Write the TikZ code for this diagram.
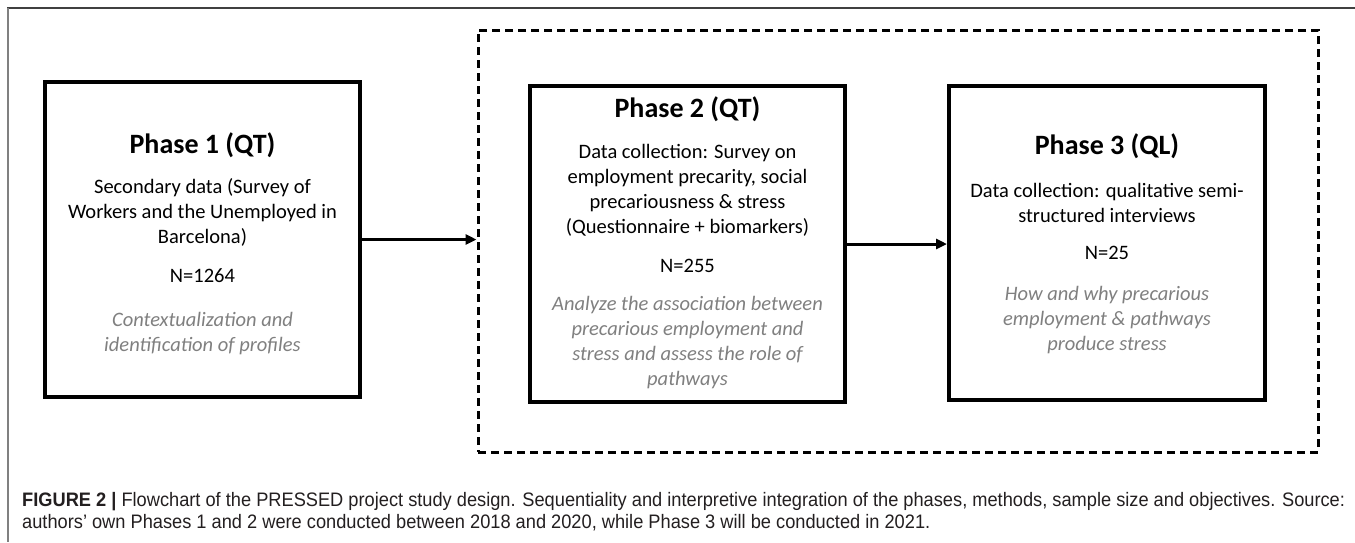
\documentclass[tikz,border=0pt]{standalone}
\usepackage{fontspec}
\usetikzlibrary{arrows.meta}
\newfontfamily\boxfont{Carlito}
\newfontfamily\capfont[FakeStretch=0.935]{Liberation Sans}
\definecolor{objgray}{gray}{0.5}
\definecolor{captxt}{HTML}{231F20}
\begin{document}
\begin{tikzpicture}[x=1pt,y=-1pt,
  phasebox/.style={draw, line width=4pt, inner sep=0pt, minimum width=315pt, minimum height=315pt},
  groupbox/.style={draw, line width=3pt, dash pattern=on 8pt off 5pt, inner sep=0pt, minimum width=840pt, minimum height=422pt},
  titletext/.style={font=\boxfont\bfseries\fontsize{28}{32}\selectfont, anchor=base, inner sep=0pt},
  bodytext/.style={font=\boxfont\fontsize{20.5}{25}\selectfont, align=center, anchor=base, inner sep=0pt},
  objtext/.style={font=\boxfont\itshape\fontsize{20.5}{25}\selectfont, align=center, anchor=base, inner sep=0pt, text=objgray},
  flow/.style={line width=3pt, -{Triangle[length=11pt,width=10pt]}},
  captext/.style={font=\capfont\fontsize{19.5}{22}\selectfont, align=left, anchor=base west, inner sep=0pt, text=captxt}
]
\useasboundingbox (0,0) rectangle (1355,542);
\fill[white] (0,0) rectangle (1355,542);
% figure frame
\draw[line width=1.5pt, black!75] (7,8) -- (1355,8);
\draw[line width=2pt, black!50] (7.5,8) -- (7.5,542);

% boxes
\node[groupbox] (group) at (898,241) {};
\node[phasebox] (box1) at (202.5,239.5) {};
\node[phasebox, minimum height=316pt] (box2) at (687.5,244) {};
\node[phasebox, minimum width=316pt, minimum height=314pt] (box3) at (1107,243) {};

% box 1 text (multi-line nodes: base = baseline of last line)
\node[titletext] (t1) at (202.5,153) {Phase 1 (QT)};
\node[bodytext] (b1) at (202.5,243) {Secondary data (Survey of\\Workers and the Unemployed in\\Barcelona)};
\node[bodytext] (n1) at (202.5,282) {N=1264};
\node[objtext] (o1) at (202.5,351) {Contextualization and\\identification of profiles};

% box 2 text
\node[titletext] (t2) at (687.5,117) {Phase 2 (QT)};
\node[bodytext] (b2) at (687.5,233) {Data collection: Survey on\\employment precarity, social\\precariousness \& stress\\(Questionnaire + biomarkers)};
\node[bodytext] (n2) at (687.5,272) {N=255};
\node[objtext] (o2) at (687.5,385) {Analyze the association between\\precarious employment and\\stress and assess the role of\\pathways};

% box 3 text
\node[titletext] (t3) at (1107,154) {Phase 3 (QL)};
\node[bodytext] (b3) at (1107,222) {Data collection: qualitative semi-\\structured interviews};
\node[bodytext] (n3) at (1107,259) {N=25};
\node[objtext] (o3) at (1107,350) {How and why precarious\\employment \& pathways\\produce stress};

% arrows
\draw[flow] (box1.east) -- (box1.east -| group.west);
\draw[flow] (box2.east) -- (box2.east -| box3.west);

% caption
\node[captext] (cap) at (22,528) {\textbf{FIGURE 2 |} Flowchart of the PRESSED project study design. Sequentiality and interpretive integration of the phases, methods, sample size and objectives. Source:\\authors’ own Phases 1 and 2 were conducted between 2018 and 2020, while Phase 3 will be conducted in 2021.};
\end{tikzpicture}
\end{document}
